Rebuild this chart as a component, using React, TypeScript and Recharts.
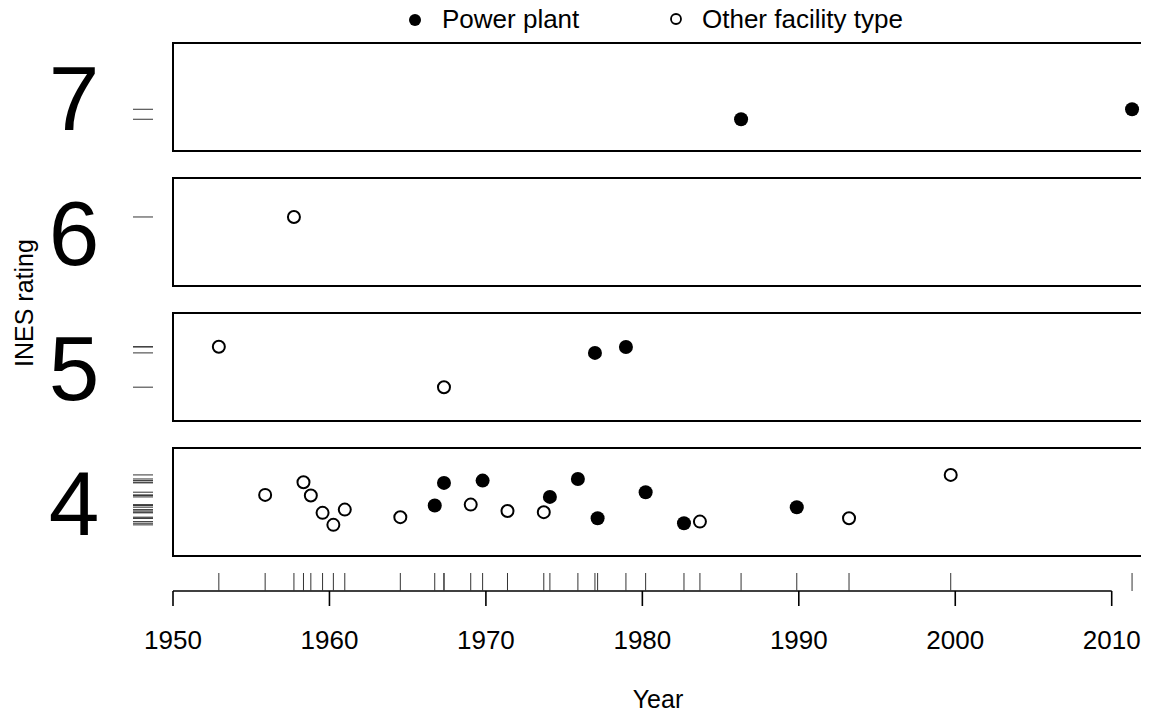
import React from "react";
import {
  ScatterChart, Scatter, XAxis, YAxis, ReferenceArea, ReferenceLine,
} from "recharts";

// INES rating panels, bottom to top
const ratings = [4, 5, 6, 7];
const yearTicks = [1950, 1960, 1970, 1980, 1990, 2000, 2010];

// power plant events
const powerYears = [1986.31, 2011.3, 1976.97, 1978.95, 1966.73, 1967.32, 1969.79, 1974.09, 1975.88, 1977.14, 1980.21, 1982.66, 1989.87];
const powerRatings = [7, 7, 5, 5, 4, 4, 4, 4, 4, 4, 4, 4, 4];
const powerJitter = [0.235, 0.309, 0.504, 0.548, 0.373, 0.541, 0.558, 0.437, 0.57, 0.279, 0.472, 0.242, 0.361];

// other facility types
const otherYears = [1957.73, 1952.93, 1967.32, 1955.89, 1958.34, 1958.81, 1959.56, 1960.25, 1960.98, 1964.53, 1969.03, 1971.38, 1973.7, 1983.68, 1993.21, 1999.71];
const otherRatings = [6, 5, 5, 4, 4, 4, 4, 4, 4, 4, 4, 4, 4, 4, 4, 4];
const otherJitter = [0.511, 0.55, 0.25, 0.452, 0.546, 0.447, 0.319, 0.23, 0.343, 0.287, 0.38, 0.333, 0.324, 0.254, 0.279, 0.6];

const W = 1149;
const H = 715;
const LEFT = 173;
const RIGHT = 6;
const TOP = 43;
const XAXIS_H = 124;
const PLOT_BOTTOM = H - XAXIS_H;
const PANEL_H = 0.8;
const FONT = '"Liberation Sans", Arial, Helvetica, sans-serif';

const build = (years: number[], rs: number[], jit: number[]) =>
  years.map((year, i) => ({ year, y: ratings.indexOf(rs[i]) + jit[i] }));

const powerData = build(powerYears, powerRatings, powerJitter);
const otherData = build(otherYears, otherRatings, otherJitter);

// point + rug marks on the left and bottom
const makeShape = (filled: boolean) => (props: any) => {
  const { cx, cy } = props;
  return (
    <g>
      <line x1={LEFT - 40} x2={LEFT - 20} y1={cy} y2={cy} stroke="#333" strokeWidth={1} />
      <line x1={cx} x2={cx} y1={PLOT_BOTTOM - 18} y2={PLOT_BOTTOM} stroke="#333" strokeWidth={1} />
      {filled ? (
        <circle cx={cx} cy={cy} r={7} fill="#000" />
      ) : (
        <circle cx={cx} cy={cy} r={6} fill="#fff" stroke="#000" strokeWidth={2} />
      )}
    </g>
  );
};

const RatingTick = (props: any) => {
  const { y, payload } = props;
  return (
    <text x={74} y={y} dy="0.36em" textAnchor="middle" fontSize={91} fill="#000" fontFamily={FONT}>
      {ratings[Math.floor(payload.value)]}
    </text>
  );
};

const InesLabel = (props: any) => {
  const vb = props.viewBox || { x: 0, y: TOP };
  const x = vb.x + 33;
  const y = vb.y + 260;
  return (
    <text x={x} y={y} transform={`rotate(-90 ${x} ${y})`} textAnchor="middle" fontSize={25} fill="#000" fontFamily={FONT}>
      INES rating
    </text>
  );
};

const YearLabel = (props: any) => {
  const vb = props.viewBox || { x: LEFT, y: PLOT_BOTTOM, width: W - LEFT - RIGHT };
  return (
    <text x={vb.x + vb.width / 2} y={vb.y + 117} textAnchor="middle" fontSize={25} fill="#000" fontFamily={FONT}>
      Year
    </text>
  );
};

export default function App() {
  return (
    <div style={{ position: "relative", width: W, height: H, margin: "-8px 0 0 -8px", background: "#fff", fontFamily: FONT }}>
      <svg width={W} height={40} style={{ position: "absolute", left: 0, top: 0 }}>
        <circle cx={415} cy={20} r={6} fill="#000" />
        <text x={442} y={28} fontSize={26} fontFamily={FONT}>Power plant</text>
        <circle cx={676} cy={19} r={5} fill="#fff" stroke="#000" strokeWidth={1.8} />
        <text x={702} y={28} fontSize={26} fontFamily={FONT}>Other facility type</text>
      </svg>
      <ScatterChart width={W} height={H} margin={{ top: TOP, right: RIGHT, bottom: 0, left: 0 }}>
        <XAxis
          type="number"
          dataKey="year"
          domain={[1950, 2012]}
          ticks={yearTicks}
          height={XAXIS_H}
          axisLine={false}
          tickSize={15}
          tickMargin={25}
          tickLine={{ stroke: "#000", strokeWidth: 1.6 }}
          tick={{ fill: "#000", fontSize: 26 }}
          label={<YearLabel />}
        />
        <YAxis
          type="number"
          dataKey="y"
          domain={[-0.26, 3.8]}
          ticks={[0.4, 1.4, 2.4, 3.4]}
          width={LEFT}
          axisLine={false}
          tickLine={false}
          tick={<RatingTick />}
          label={<InesLabel />}
        />
        {ratings.map((r, i) => (
          <ReferenceArea
            key={r}
            x1={1950}
            x2={2012}
            y1={i}
            y2={i + PANEL_H}
            fill="#fff"
            fillOpacity={0}
            stroke="#000"
            strokeWidth={2}
          />
        ))}
        <ReferenceLine
          segment={[{ x: 1950, y: -0.26 }, { x: 2010, y: -0.26 }]}
          stroke="#000"
          strokeWidth={1.6}
        />
        <Scatter name="Other facility type" data={otherData} shape={makeShape(false)} isAnimationActive={false} />
        <Scatter name="Power plant" data={powerData} shape={makeShape(true)} isAnimationActive={false} />
      </ScatterChart>
    </div>
  );
}
